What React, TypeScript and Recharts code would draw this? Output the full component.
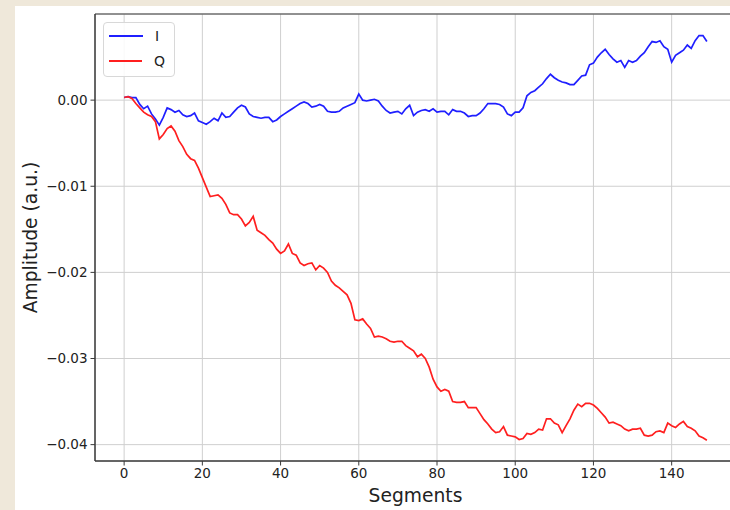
import {
  LineChart,
  Line,
  XAxis,
  YAxis,
  CartesianGrid,
  Legend,
  Label,
  ReferenceArea,
} from "recharts";

// I/Q amplitude per segment (150 segments)
const iValues = [
  0.0003, 0.0004, 0.0003, 0.0003, -0.0005, -0.001, -0.0007, -0.0016, -0.0022, -0.0029,
  -0.002, -0.0009, -0.0011, -0.0014, -0.0012, -0.0017, -0.0019, -0.0018, -0.0015, -0.0024,
  -0.0026, -0.0028, -0.0025, -0.0021, -0.0024, -0.0015, -0.002, -0.0019, -0.0014, -0.0009,
  -0.0006, -0.0008, -0.0016, -0.0019, -0.002, -0.0021, -0.002, -0.002, -0.0025, -0.0023,
  -0.0019, -0.0016, -0.0013, -0.001, -0.0007, -0.0004, -0.0002, -0.0004, -0.0008, -0.0007,
  -0.0005, -0.0007, -0.0013, -0.0014, -0.0014, -0.0013, -0.0009, -0.0007, -0.0005, -0.0003,
  0.0007, 0.0, -0.0001, 0.0, 0.0001, -0.0001, -0.0007, -0.0012, -0.0015, -0.0014,
  -0.0013, -0.0016, -0.001, -0.0006, -0.0018, -0.0014, -0.0012, -0.0011, -0.0013, -0.001,
  -0.0014, -0.0013, -0.0013, -0.0017, -0.0011, -0.0013, -0.0013, -0.0015, -0.0019, -0.0018,
  -0.0018, -0.0015, -0.001, -0.0004, -0.0004, -0.0004, -0.0005, -0.0008, -0.0016, -0.0018,
  -0.0014, -0.0014, -0.0009, 0.0005, 0.0009, 0.0011, 0.0015, 0.0019, 0.0025, 0.003,
  0.0026, 0.0023, 0.0021, 0.002, 0.0018, 0.0018, 0.0023, 0.0028, 0.0029, 0.0041,
  0.0043, 0.005, 0.0055, 0.0059, 0.0053, 0.0048, 0.0044, 0.0046, 0.0038, 0.0046,
  0.0044, 0.0046, 0.0051, 0.0055, 0.0062, 0.0068, 0.0067, 0.0069, 0.0062, 0.0059,
  0.0044, 0.0052, 0.0055, 0.0058, 0.0064, 0.006, 0.0069, 0.0075, 0.0075, 0.0068,
];

const qValues = [
  0.0003, 0.0004, 0.0002, -0.0004, -0.0009, -0.0014, -0.0017, -0.0019, -0.0025, -0.0045,
  -0.004, -0.0033, -0.003, -0.0036, -0.0047, -0.0054, -0.0063, -0.0068, -0.007, -0.0079,
  -0.009, -0.0101, -0.0112, -0.0111, -0.011, -0.0114, -0.0121, -0.0131, -0.0133, -0.0133,
  -0.0138, -0.0146, -0.0142, -0.0135, -0.0151, -0.0154, -0.0157, -0.0162, -0.0166, -0.0173,
  -0.0178, -0.0175, -0.0167, -0.0178, -0.018, -0.0189, -0.0192, -0.019, -0.0189, -0.0197,
  -0.0192, -0.0195, -0.02, -0.021, -0.0215, -0.0218, -0.0222, -0.0226, -0.0236, -0.0255,
  -0.0256, -0.0254, -0.026, -0.0265, -0.0275, -0.0274, -0.0275, -0.0277, -0.028, -0.0281,
  -0.028, -0.028, -0.0285, -0.0288, -0.0291, -0.0298, -0.0295, -0.03, -0.031, -0.0324,
  -0.0333, -0.0338, -0.0336, -0.0338, -0.035, -0.0351, -0.0351, -0.035, -0.0357, -0.0357,
  -0.0357, -0.0364, -0.0371, -0.0376, -0.0382, -0.0386, -0.0385, -0.0379, -0.0389, -0.039,
  -0.0391, -0.0394, -0.0393, -0.0387, -0.0388, -0.0386, -0.0382, -0.0383, -0.037, -0.037,
  -0.0375, -0.0377, -0.0386, -0.0378, -0.037, -0.036, -0.0353, -0.0356, -0.0352, -0.0352,
  -0.0354, -0.0358, -0.0363, -0.0368, -0.0375, -0.0374, -0.0376, -0.0378, -0.0382, -0.0384,
  -0.0382, -0.0382, -0.0381, -0.0389, -0.039, -0.0389, -0.0385, -0.0384, -0.0386, -0.0375,
  -0.0378, -0.038, -0.0376, -0.0373, -0.0379, -0.0381, -0.0384, -0.039, -0.0392, -0.0395,
];

const xTicks = [0, 20, 40, 60, 80, 100, 120, 140];
const yTicks = [0, -0.01, -0.02, -0.03, -0.04];

const X_DOMAIN: [number, number] = [-7.45, 156.45];
const Y_DOMAIN: [number, number] = [-0.0419, 0.01];

const data = iValues.map((v, idx) => ({ seg: idx, I: v, Q: qValues[idx] }));

const FONT = "'DejaVu Sans', sans-serif";
const AXIS = "#3a3a3a";

const fmtY = (v: number) => (v === 0 ? "0.00" : "\u2212" + Math.abs(v).toFixed(2));

function LegendBox(props: any) {
  const items = props.payload || [];
  return (
    <div
      style={{
        background: "rgba(255,255,255,0.85)",
        border: "1px solid #d8d8d8",
        borderRadius: 4,
        padding: "1px 9px 2px 5px",
        fontFamily: FONT,
        fontSize: 14,
        color: "#222",
        width: 56,
      }}
    >
      {items.map((it: any) => (
        <div key={it.value} style={{ display: "flex", alignItems: "center", height: 25 }}>
          <span
            style={{
              display: "inline-block",
              width: 34,
              height: 2,
              background: it.color,
              marginRight: 12,
            }}
          />
          <span>{it.value}</span>
        </div>
      ))}
    </div>
  );
}

export default function App() {
  return (
    <div
      style={{
        position: "fixed",
        left: 0,
        top: 0,
        width: 730,
        height: 510,
        overflow: "hidden",
        background: "#efe8da",
      }}
    >
      <div
        style={{
          position: "absolute",
          left: 15,
          top: 6,
          width: 740,
          height: 504,
          background: "#ffffff",
        }}
      >
        <LineChart
          width={740}
          height={504}
          data={data}
          margin={{ top: 8, right: 19, bottom: 0, left: 0 }}
          style={{ fontFamily: FONT }}
        >
          <CartesianGrid stroke="#cfcfcf" strokeWidth={1} />
          <XAxis
            dataKey="seg"
            type="number"
            domain={X_DOMAIN}
            ticks={xTicks}
            allowDataOverflow
            height={49}
            tickSize={4.5}
            tickMargin={3}
            tick={{ fill: "#222", fontSize: 13.5, fontFamily: FONT }}
            tickLine={{ stroke: AXIS }}
            axisLine={{ stroke: AXIS }}
          >
            <Label
              value="Segments"
              position="insideBottom"
              offset={8}
              style={{ fill: "#222", fontSize: 18.7, fontFamily: FONT }}
            />
          </XAxis>
          <YAxis
            type="number"
            domain={Y_DOMAIN}
            ticks={yTicks}
            allowDataOverflow
            width={80}
            tickSize={4.5}
            tickMargin={3}
            tickFormatter={fmtY}
            tick={{ fill: "#222", fontSize: 13.5, fontFamily: FONT }}
            tickLine={{ stroke: AXIS }}
            axisLine={{ stroke: AXIS }}
          >
            <Label
              value="Amplitude (a.u.)"
              angle={-90}
              position="insideLeft"
              offset={15}
              style={{ fill: "#222", fontSize: 18.7, fontFamily: FONT, textAnchor: "middle" }}
            />
          </YAxis>
          <ReferenceArea
            x1={X_DOMAIN[0]}
            x2={X_DOMAIN[1]}
            y1={Y_DOMAIN[0]}
            y2={Y_DOMAIN[1]}
            fill="none"
            stroke={AXIS}
            strokeWidth={1}
            ifOverflow="visible"
          />
          <Line
            dataKey="I"
            name="I"
            stroke="#1f1fff"
            strokeWidth={1.7}
            dot={false}
            type="linear"
            isAnimationActive={false}
          />
          <Line
            dataKey="Q"
            name="Q"
            stroke="#ff1f1f"
            strokeWidth={1.7}
            dot={false}
            type="linear"
            isAnimationActive={false}
          />
          <Legend
            layout="vertical"
            align="center"
            verticalAlign="middle"
            content={<LegendBox />}
            wrapperStyle={{ position: "absolute", left: 88, top: 15.5, width: "auto" }}
          />
        </LineChart>
      </div>
    </div>
  );
}
